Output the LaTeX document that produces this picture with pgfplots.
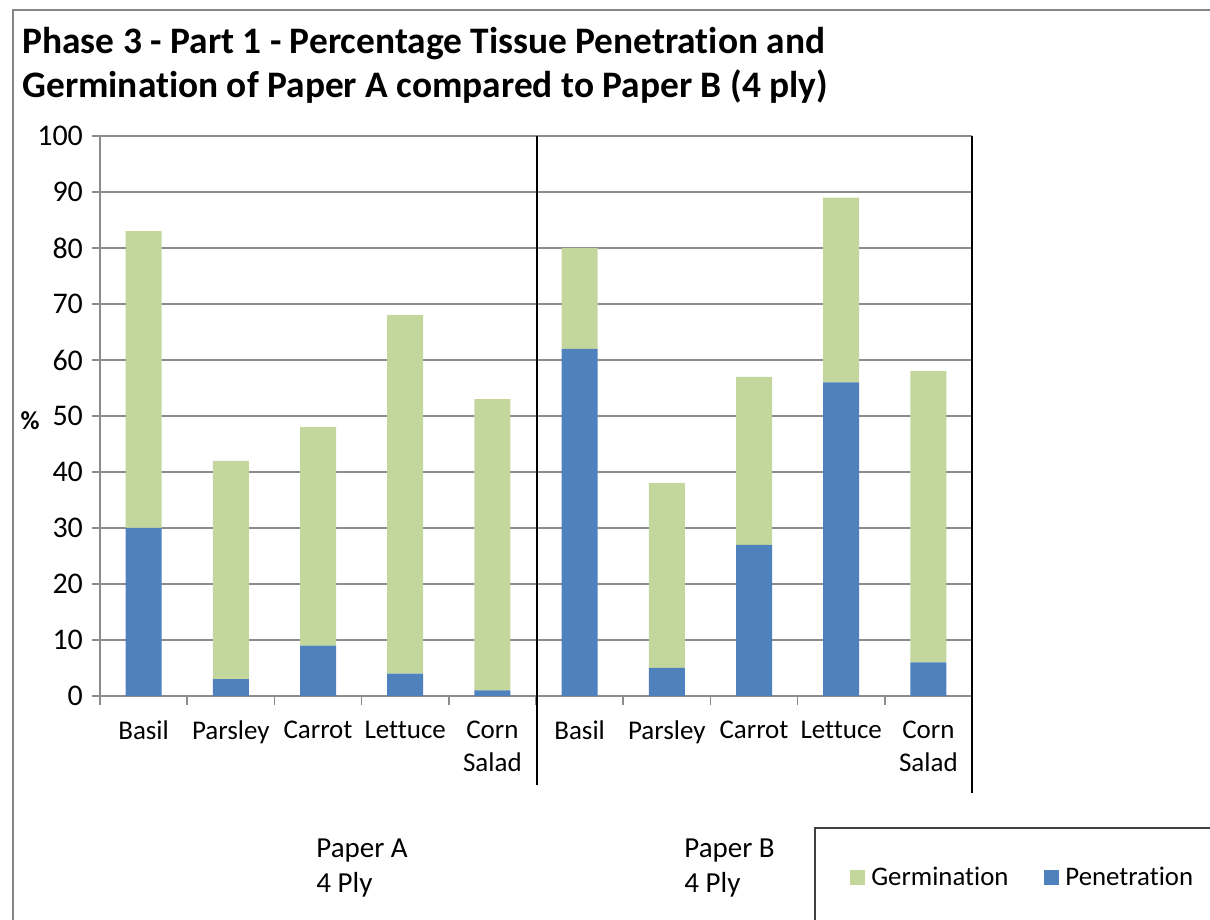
\documentclass[border=0pt]{standalone}
\usepackage{pgfplots}
\pgfplotsset{compat=1.18}
\usepackage{pgfplotstable}
\usepackage{fontspec}
\setmainfont{Carlito}[Ligatures={NoCommon,NoContextual}]

\definecolor{penblue}{HTML}{4F81BD}
\definecolor{germgreen}{HTML}{C3D69B}
\definecolor{gridgray}{HTML}{8C8C8C}
\definecolor{framegray}{HTML}{868686}

% stacked segments: penetration at the bottom, germination on top
\pgfplotstableread{
idx pen germ
0 30 53
1 3 39
2 9 39
3 4 64
4 1 52
5 62 18
6 5 33
7 27 30
8 56 33
9 6 52
}\seedtable

\begin{document}
\begin{tikzpicture}
\clip (0,0) rectangle (605pt,460pt);
\fill[white] (0,0) rectangle (605pt,460pt);
\begin{axis}[
  at={(50pt,112pt)}, anchor=south west,
  scale only axis, width=436pt, height=280pt,
  xmin=-0.5, xmax=9.5, ymin=0, ymax=100,
  ybar stacked, bar width=18pt,
  axis x line*=bottom, axis y line*=left,
  axis line style={gridgray, line width=0.75pt},
  ymajorgrids, grid style={gridgray, line width=0.75pt},
  ytick={0,10,...,100},
  xtick={0,...,9},
  xticklabels={Basil,Parsley,Carrot,Lettuce,{Corn\\Salad},Basil,Parsley,Carrot,Lettuce,{Corn\\Salad}},
  minor xtick={-0.5,0.5,...,9.5},
  tick align=outside,
  major tick length=4pt, minor tick length=4.5pt,
  major x tick style={draw=none},
  tick style={gridgray, line width=0.75pt},
  /pgf/number format/assume math mode=true,
  x tick label style={align=center, anchor=north, yshift=-5pt,
    font=\fontsize{13.5}{16.5}\selectfont},
  y tick label style={anchor=east, xshift=-1pt,
    font=\fontsize{15}{18}\selectfont},
  reverse legend,
  legend columns=2,
  legend style={at={(0.860,-0.324)}, anchor=west, draw=none, fill=none,
    inner sep=0pt, font=\fontsize{13.4}{16}\selectfont,
    nodes={inner xsep=3pt, inner ysep=1.5pt},
    /tikz/every even column/.append style={column sep=15pt}},
  legend image code/.code={\fill[#1] (0pt,-3.75pt) rectangle (7.5pt,3.75pt);},
]
\addplot[fill=penblue, draw=none] table[x=idx, y=pen] {\seedtable};
\addlegendentry{Penetration}
\addplot[fill=germgreen, draw=none] table[x=idx, y=germ] {\seedtable};
\addlegendentry{Germination}
\end{axis}

\begin{scope}[shift={(0,460pt)}, x=0.5pt, y=-0.5pt]
  % chart area frame and legend box
  \draw[framegray, line width=1pt] (13,925) -- (13,10) -- (1215,10);
  \draw[black!75, line width=0.8pt] (815,925) -- (815,828) -- (1215,828);
  % group separators
  \draw[black, line width=1.1pt] (537,136) -- (537,785);
  \draw[black, line width=1.1pt] (972,136) -- (972,793);
  % title
  \node[anchor=base west, inner sep=0pt, font=\fontsize{18.7}{22}\selectfont\bfseries] at (22,54)
    {Phase 3 - Part 1 - Percentage Tissue Penetration and};
  \node[anchor=base west, inner sep=0pt, font=\fontsize{18.7}{22}\selectfont\bfseries] at (22,98)
    {Germination of Paper A compared to Paper B (4 ply)};
  % y axis title
  \node[font=\fontsize{13}{16}\selectfont\bfseries, inner sep=0pt] at (30,421) {\%};
  % group labels
  \node[anchor=base west, inner sep=0pt, font=\fontsize{14.5}{17}\selectfont] at (316,858) {Paper A};
  \node[anchor=base west, inner sep=0pt, font=\fontsize{14.5}{17}\selectfont] at (316,893) {4 Ply};
  \node[anchor=base west, inner sep=0pt, font=\fontsize{14.5}{17}\selectfont] at (684,858) {Paper B};
  \node[anchor=base west, inner sep=0pt, font=\fontsize{14.5}{17}\selectfont] at (684,893) {4 Ply};
\end{scope}
\end{tikzpicture}
\end{document}
